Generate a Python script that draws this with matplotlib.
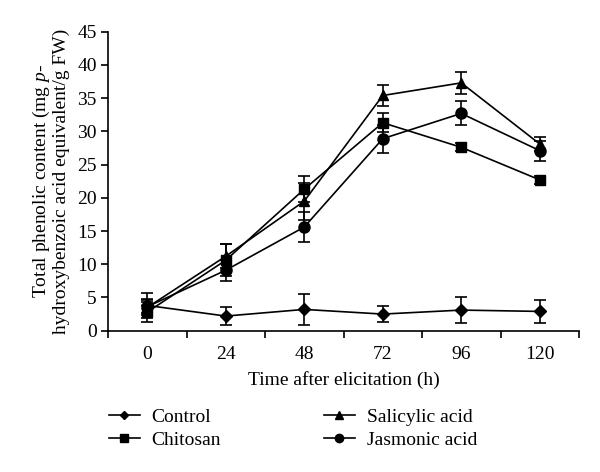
import matplotlib
matplotlib.use('Agg')
import matplotlib.pyplot as plt
import numpy as np

plt.rcParams['font.family'] = ['Liberation Serif', 'DejaVu Serif']
plt.rcParams['mathtext.fontset'] = 'custom'
plt.rcParams['mathtext.it'] = 'Liberation Serif:italic'
plt.rcParams['mathtext.rm'] = 'Liberation Serif'

# data
hours = ['0', '24', '48', '72', '96', '120']
series_names = ['Control', 'Chitosan', 'Salicylic acid', 'Jasmonic acid']
control = [3.8, 2.2, 3.2, 2.5, 3.1, 2.9]
control_err = [1.9, 1.3, 2.3, 1.2, 2.0, 1.7]
chitosan = [2.8, 10.6, 21.3, 31.3, 27.6, 22.7]
chitosan_err = [1.5, 2.4, 2.0, 1.4, 0.6, 0.6]
salicylic = [3.5, 11.2, 19.5, 35.4, 37.3, 28.1]
salicylic_err = [1.2, 1.8, 2.8, 1.6, 1.6, 1.0]
jasmonic = [3.6, 9.1, 15.6, 28.9, 32.7, 27.1]
jasmonic_err = [1.0, 1.6, 2.3, 2.1, 1.8, 1.5]

values = [control, chitosan, salicylic, jasmonic]
errors = [control_err, chitosan_err, salicylic_err, jasmonic_err]
markers = ['D', 's', '^', 'o']
msizes = [6, 7.5, 7.5, 8]

fig = plt.figure(figsize=(6, 4.72), dpi=100)
ax = fig.add_axes([0.18, 0.2994, 0.785, 0.6334])

x = np.arange(len(hours))
handles = []
for vals, err, m, ms, name in zip(values, errors, markers, msizes, series_names):
    cont = ax.errorbar(x, vals, yerr=err, color='black', marker=m, markersize=ms,
                       linewidth=1.2, elinewidth=1.2, capsize=4, capthick=1.2,
                       label=name)
    handles.append(cont[0])

# axes styling
ax.set_xlim(-0.5, 5.5)
ax.set_ylim(0, 45)
ax.set_yticks(range(0, 46, 5))
ax.set_xticks(np.arange(-0.5, 5.6, 1))
ax.set_xticklabels([])
ax.set_xticks(x, minor=True)
ax.set_xticklabels(hours, minor=True)
ax.tick_params(axis='x', which='minor', length=0, pad=11, labelsize=14)
ax.tick_params(axis='x', which='major', length=5, width=1.2, direction='out')
ax.tick_params(axis='y', length=5, width=1.2, direction='out', labelsize=14, pad=3)
for s in ['top', 'right']:
    ax.spines[s].set_visible(False)
for s in ['left', 'bottom']:
    ax.spines[s].set_linewidth(1.2)

ax.set_xlabel('Time after elicitation (h)', fontsize=14, labelpad=6)
ax.set_ylabel('Total phenolic content (mg $p$-\nhydroxybenzoic acid equivalent/g FW)',
              fontsize=14, labelpad=5, linespacing=1.05)

fig.legend(handles=handles, labels=series_names, ncol=2, loc='upper left',
           bbox_to_anchor=(0.168, 0.152), frameon=False, fontsize=14,
           handlelength=1.6, markerscale=0.75, columnspacing=5.3,
           labelspacing=0.3, handletextpad=0.6, borderaxespad=0)

plt.savefig('out.png', dpi=100)
